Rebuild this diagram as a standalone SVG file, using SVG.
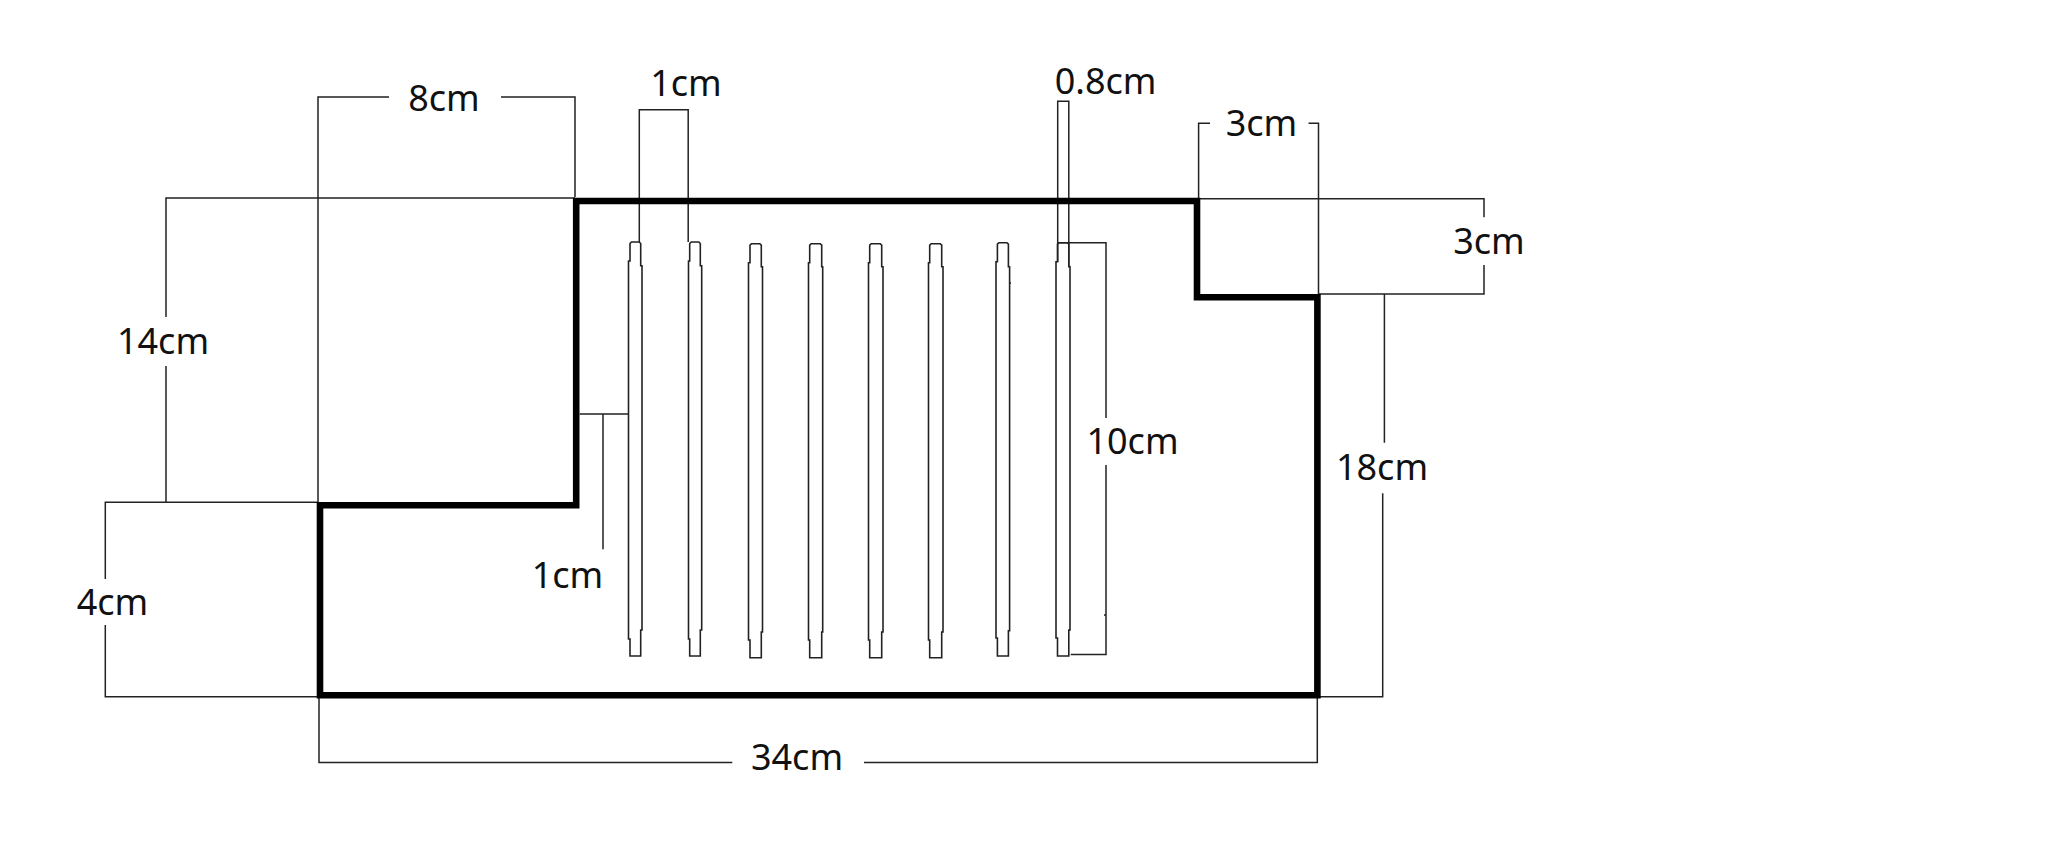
<svg xmlns="http://www.w3.org/2000/svg" width="2056" height="850" viewBox="0 0 2056 850">
<style>
.dim{fill:none;stroke:#222;stroke-width:1.5}
.fin{fill:none;stroke:#222;stroke-width:1.6}
.wall{fill:none;stroke:#000;stroke-width:6.6;stroke-linejoin:miter}
text{font-family:"Noto Sans","Open Sans","Liberation Sans",sans-serif;font-size:36px;fill:#111;text-anchor:middle}
</style>
<rect width="2056" height="850" fill="#fff"/>
<g id="dimension-lines">
<path class="dim" d="M389 97H318V502M501 97H575V197"/>
<path class="dim" d="M575 198H166V317M166 366V502.3"/>
<path class="dim" d="M318 502.3H105.3V579M105.3 625V696.7H319"/>
<path class="dim" d="M319 697V762.5H732.3M864 762.5H1317.3V697"/>
<path class="dim" d="M639.3 242V109.7H688.2V242"/>
<path class="dim" d="M1057.7 262V101.3H1068.8V266"/>
<path class="dim" d="M1058 242.7H1106V418M1106 465V654.5H1070.7M1104 615H1106"/>
<path class="dim" d="M1210 123.3H1198.6V199M1308.5 123.3H1318.5V295"/>
<path class="dim" d="M1198 198.7H1484V217.3M1484 265V294H1318"/>
<path class="dim" d="M1384.4 294V442.7M1382.7 493.3V696.7H1320"/>
<path class="dim" d="M579.6 414H628M603 414V549.3"/>
</g>
<g id="fins">
<path class="fin" d="M628.5 639V261H630V243.5L631.5 242H639.2L640.7 243.5V265.7H642V630H640.7V656H630V639Z"/>
<path class="fin" d="M688.5 639V261H689.7V243.5L691.2 242H698.8L700.3 243.5V265.7H701.7V630H700.3V656H689.7V639Z"/>
<path class="fin" d="M748.5 640V262.7H750V245.2L751.5 243.7H759.8L761.3 245.2V266.7H762.5V632H761.3V657.7H750V640Z"/>
<path class="fin" d="M808.5 640V262.7H809.7V245.2L811.2 243.7H820.2L821.7 245.2V266.7H822.7V632H821.7V657.7H809.7V640Z"/>
<path class="fin" d="M868.5 640V262.7H869.7V245.2L871.2 243.7H880.2L881.7 245.2V266.7H883V632H881.7V657.7H869.7V640Z"/>
<path class="fin" d="M928.5 640V262.7H929.7V245.2L931.2 243.7H940.2L941.7 245.2V266.7H943V632H941.7V657.7H929.7V640Z"/>
<path class="fin" d="M996 638V261.7H997.4V244.2L998.9 242.7H1006.9L1008.4 244.2V266.7H1009.6V630.7H1008.4V656H997.4V638ZM1009.6 283H1011"/>
<path class="fin" d="M1056 638V261.7H1057.5V244.2L1059 242.7H1067.3L1068.8 244.2V266.7H1070V630H1068.8V656H1057.5V638Z"/>
</g>
<g id="outline">
<path class="wall" d="M576.2 201H1197V297.3H1317.4V695.3H320V505.3H576.2Z"/>
</g>
<g id="labels">
<text x="444" y="110.5">8cm</text>
<text x="686" y="96">1cm</text>
<text x="1105.6" y="93.5">0.8cm</text>
<text x="1261.5" y="135.5">3cm</text>
<text x="1489" y="254">3cm</text>
<text x="163" y="353.5">14cm</text>
<text x="1132.5" y="454">10cm</text>
<text x="1382" y="479.5">18cm</text>
<text x="567.5" y="588">1cm</text>
<text x="112.5" y="615">4cm</text>
<text x="797" y="770">34cm</text>
</g>
</svg>
